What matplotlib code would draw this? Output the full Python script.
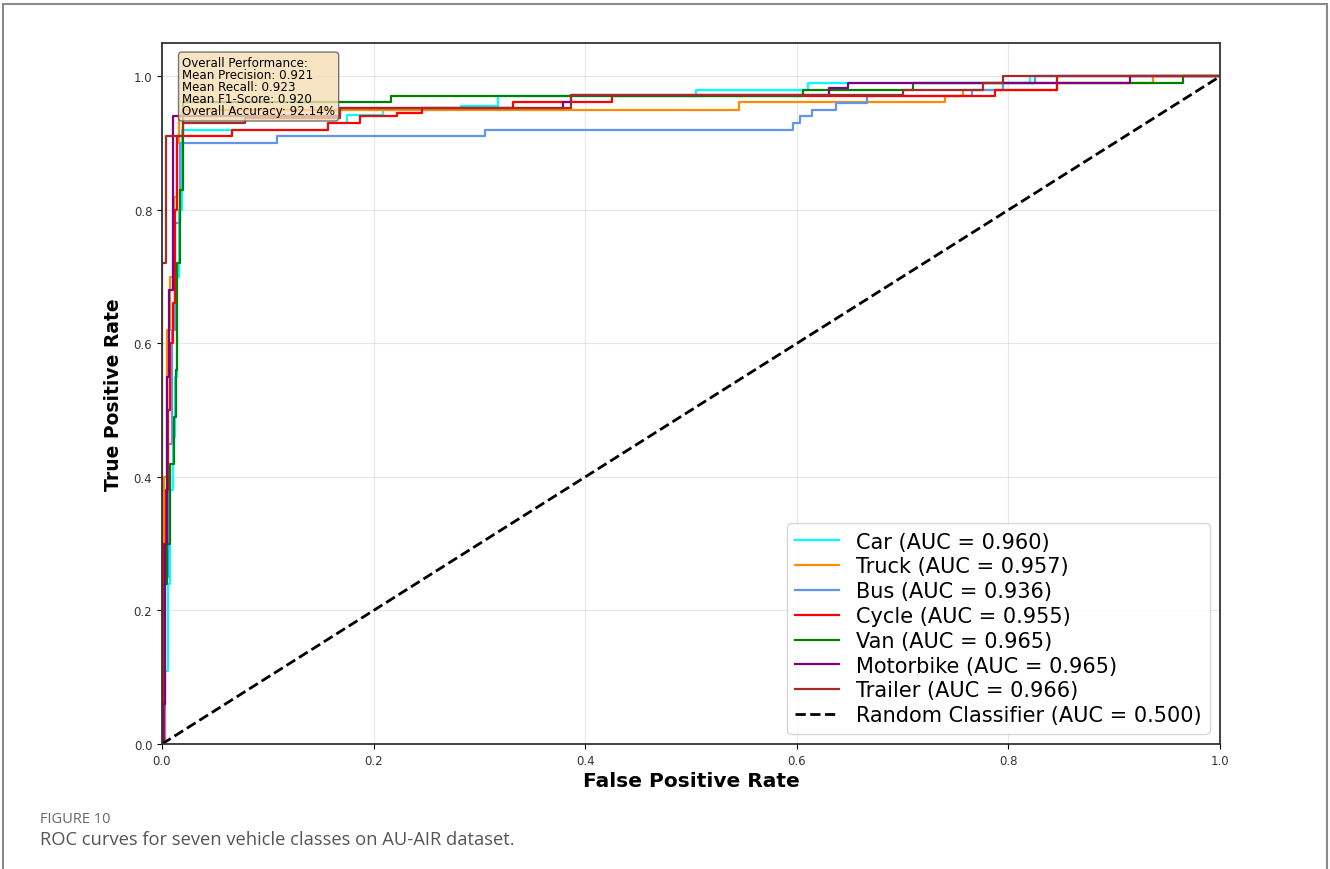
import matplotlib.pyplot as plt
import numpy as np
from matplotlib.patches import Rectangle

# ROC corner points per class (fpr where tpr jumps, tpr after the jump)
car_fpr = [0, 0.003, 0.006, 0.008, 0.010, 0.012, 0.014, 0.016, 0.019, 0.157, 0.175, 0.209, 0.283, 0.318, 0.505, 0.611, 0.820, 1.0]
car_tpr = [0, 0.11, 0.24, 0.38, 0.46, 0.55, 0.70, 0.80, 0.92, 0.93, 0.942, 0.95, 0.955, 0.97, 0.98, 0.99, 1.0, 1.0]

truck_fpr = [0, 0.002, 0.005, 0.008, 0.011, 0.014, 0.016, 0.020, 0.545, 0.740, 0.757, 0.846, 0.937, 1.0]
truck_tpr = [0, 0.40, 0.62, 0.70, 0.82, 0.90, 0.94, 0.95, 0.962, 0.97, 0.98, 0.99, 1.0, 1.0]

bus_fpr = [0, 0.003, 0.006, 0.009, 0.012, 0.017, 0.109, 0.305, 0.596, 0.603, 0.614, 0.637, 0.666, 0.766, 0.795, 0.825, 1.0]
bus_tpr = [0, 0.25, 0.45, 0.62, 0.78, 0.90, 0.91, 0.92, 0.93, 0.94, 0.95, 0.96, 0.97, 0.98, 0.99, 1.0, 1.0]

cycle_fpr = [0, 0.002, 0.004, 0.006, 0.008, 0.010, 0.012, 0.014, 0.066, 0.157, 0.187, 0.222, 0.246, 0.332, 0.425, 0.787, 0.846, 1.0]
cycle_tpr = [0, 0.30, 0.38, 0.50, 0.60, 0.66, 0.80, 0.91, 0.92, 0.93, 0.94, 0.945, 0.952, 0.961, 0.97, 0.98, 1.0, 1.0]

van_fpr = [0, 0, 0.005, 0.008, 0.011, 0.013, 0.014, 0.017, 0.020, 0.216, 0.606, 0.710, 0.965, 1.0]
van_tpr = [0, 0.24, 0.30, 0.42, 0.49, 0.56, 0.72, 0.83, 0.962, 0.97, 0.98, 0.99, 1.0, 1.0]

moto_fpr = [0, 0.001, 0.003, 0.005, 0.007, 0.010, 0.168, 0.379, 0.387, 0.630, 0.648, 0.915, 1.0]
moto_tpr = [0, 0.06, 0.30, 0.55, 0.68, 0.94, 0.952, 0.962, 0.972, 0.982, 0.99, 1.0, 1.0]

trailer_fpr = [0, 0, 0.004, 0.020, 0.078, 0.168, 0.387, 0.700, 0.776, 0.795, 1.0]
trailer_tpr = [0, 0.72, 0.91, 0.930, 0.937, 0.952, 0.972, 0.98, 0.99, 1.0, 1.0]

names = ['Car', 'Truck', 'Bus', 'Cycle', 'Van', 'Motorbike', 'Trailer']
aucs = [0.960, 0.957, 0.936, 0.955, 0.965, 0.965, 0.966]
colors = ['cyan', 'darkorange', 'cornflowerblue', 'red', 'green', 'purple', 'brown']
fprs = [car_fpr, truck_fpr, bus_fpr, cycle_fpr, van_fpr, moto_fpr, trailer_fpr]
tprs = [car_tpr, truck_tpr, bus_tpr, cycle_tpr, van_tpr, moto_tpr, trailer_tpr]

perf_lines = ['Overall Performance:', 'Mean Precision: 0.921', 'Mean Recall: 0.923',
              'Mean F1-Score: 0.920', 'Overall Accuracy: 92.14%']

fig = plt.figure(figsize=(13.3, 8.7), dpi=100)
ax = fig.add_axes([0.1218, 0.1437, 0.7955, 0.8057])

for f, t, n, a, c in zip(fprs, tprs, names, aucs, colors):
    ax.plot(f, t, drawstyle='steps-post', color=c, lw=1.6,
            label='{} (AUC = {:.3f})'.format(n, a))
ax.plot([0, 1], [0, 1], 'k--', lw=2, label='Random Classifier (AUC = 0.500)')

ax.set_xlim(0, 1)
ax.set_ylim(0, 1.05)
ax.set_xticks(np.arange(0, 1.01, 0.2))
ax.set_yticks(np.arange(0, 1.01, 0.2))
ax.tick_params(labelsize=8.5, labelcolor='#333333')
ax.grid(True, alpha=0.3)
for s in ax.spines.values():
    s.set_linewidth(1.3)
    s.set_color('#333333')

ax.set_xlabel('False Positive Rate', fontsize=14.5, fontweight='bold', labelpad=3)
ax.set_ylabel('True Positive Rate', fontsize=13.5, fontweight='bold', labelpad=8)

ax.legend(loc='lower right', fontsize=15, labelspacing=0.23, handlelength=2.1)

ax.text(0.019, 0.982, '\n'.join(perf_lines), transform=ax.transAxes, fontsize=8.6,
        va='top', ha='left', linespacing=0.92,
        bbox=dict(boxstyle='round,pad=0.3', facecolor='wheat', alpha=0.8, edgecolor='#555555'))

# page frame and caption
fig.add_artist(Rectangle((3 / 1330, -0.02), 1324 / 1330, 0.02 + 1 - 5 / 870,
                         transform=fig.transFigure, fill=False, edgecolor='#8a8a8a', lw=1.5))
fig.text(40 / 1330, 1 - 820 / 870, 'FIGURE 10', fontsize=10.5, color='#666666',
         family='Open Sans', va='center', ha='left')
fig.text(40 / 1330, 1 - 840 / 870, 'ROC curves for seven vehicle classes on AU-AIR dataset.',
         fontsize=13.2, color='#555555', family='Open Sans', va='center', ha='left')

fig.savefig('out.png', dpi=100)
